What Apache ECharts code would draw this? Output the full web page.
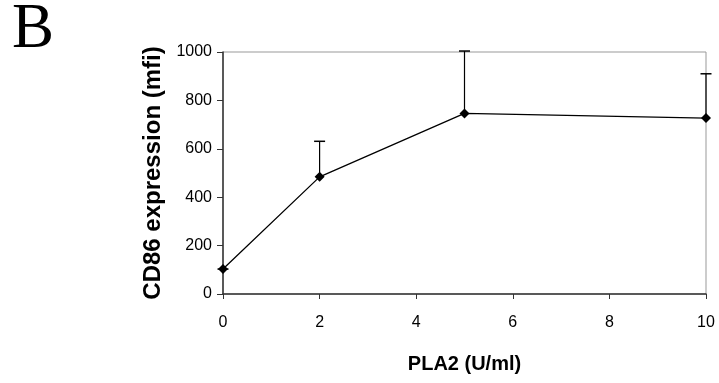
<!DOCTYPE html>
<html>
<head>
<meta charset="utf-8">
<script src="https://cdn.jsdelivr.net/npm/echarts@6/dist/echarts.min.js"></script>
<style>
html,body{margin:0;padding:0;background:#fff;}
#chart{width:719px;height:383px;}
</style>
</head>
<body>
<div id="chart"></div>
<script>
var doses = [0, 2, 5, 10];
var meanValues = [103, 484, 746, 727];
var upperValues = [103, 631, 1004, 910];
var yTicks = [0, 200, 400, 600, 800, 1000];
var xTicks = [0, 2, 4, 6, 8, 10];

var chart = echarts.init(document.getElementById('chart'));
var lineData = doses.map(function (d, i) { return [d, meanValues[i]]; });
var errData = doses.map(function (d, i) { return [d, meanValues[i], upperValues[i]]; });

chart.setOption({
  animation: false,
  backgroundColor: '#fff',
  graphic: [{
    type: 'text', left: 12, top: -1,
    style: { text: 'B', font: '63px "Liberation Serif"', fill: '#000' }
  }],
  grid: { left: 223, right: 13, top: 52, bottom: 89, show: true, borderColor: '#999', borderWidth: 1 },
  xAxis: {
    type: 'value', min: 0, max: 10, interval: 2,
    name: 'PLA2 (U/ml)', nameLocation: 'middle', nameGap: 60,
    nameTextStyle: { fontFamily: 'Liberation Sans', fontWeight: 'bold', fontSize: 20, color: '#000' },
    axisLine: { lineStyle: { color: '#333', width: 1.5 } },
    axisTick: { show: true, length: 5, lineStyle: { color: '#333' } },
    axisLabel: { fontFamily: 'Liberation Sans', fontSize: 16, color: '#000', margin: 21,
      formatter: function (v) { return String(v); } },
    splitLine: { show: false }
  },
  yAxis: {
    type: 'value', min: 0, max: 1000, interval: 200,
    name: 'CD86 expression (mfi)', nameLocation: 'middle', nameGap: 57,
    nameTextStyle: { fontFamily: 'Liberation Sans', fontWeight: 'bold', fontSize: 24, color: '#000' },
    axisLine: { show: true, lineStyle: { color: '#333', width: 1.5 } },
    axisTick: { show: true, length: 6, lineStyle: { color: '#333' } },
    axisLabel: { fontFamily: 'Liberation Sans', fontSize: 16, color: '#000', margin: 11,
      formatter: function (v) { return String(v); } },
    splitLine: { show: false }
  },
  series: [
    {
      type: 'custom',
      data: errData,
      z: 1,
      renderItem: function (params, api) {
        var x = api.value(0);
        var p0 = api.coord([x, api.value(1)]);
        var p1 = api.coord([x, api.value(2)]);
        var cap = 5.5;
        return {
          type: 'group',
          children: [
            { type: 'line', shape: { x1: p0[0], y1: p0[1], x2: p1[0], y2: p1[1] }, style: { stroke: '#000', lineWidth: 1.2 } },
            { type: 'line', shape: { x1: p1[0] - cap, y1: p1[1], x2: p1[0] + cap, y2: p1[1] }, style: { stroke: '#000', lineWidth: 1.5 } }
          ]
        };
      }
    },
    {
      type: 'line',
      data: lineData,
      z: 2,
      symbol: 'diamond',
      symbolSize: 10,
      itemStyle: { color: '#000' },
      lineStyle: { color: '#000', width: 1.3 }
    }
  ]
});
</script>
</body>
</html>
